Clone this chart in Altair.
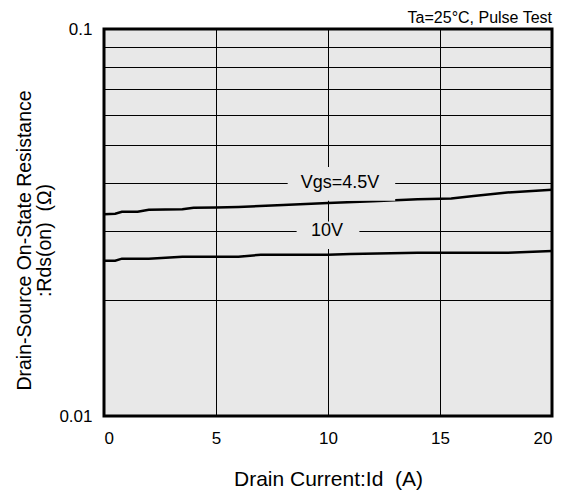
import altair as alt
import pandas as pd

# Vgs = 4.5V curve
id_45 = [0, 0.5, 0.8, 1.5, 2, 3.5, 4, 5, 6, 8, 10, 12, 14, 15.5, 16.5, 18, 20]
rds_45 = [0.0332, 0.0333, 0.0337, 0.0337, 0.0341, 0.0342, 0.0345, 0.0346, 0.0347,
          0.0351, 0.0355, 0.0359, 0.0363, 0.0365, 0.0370, 0.0378, 0.0384]
# Vgs = 10V curve
id_10 = [0, 0.5, 0.8, 2, 3.5, 6, 7, 10, 11, 14, 18, 20]
rds_10 = [0.0252, 0.0252, 0.0255, 0.0255, 0.0258, 0.0258, 0.0261, 0.0261,
          0.0262, 0.0264, 0.0264, 0.0267]

x_ticks = [0, 5, 10, 15, 20]
y_grid = [0.01, 0.02, 0.03, 0.04, 0.05, 0.06, 0.07, 0.08, 0.09, 0.1]

label_text = ["Vgs=4.5V", "10V"]
label_x = [10.54, 9.96]
label_y = [0.04, 0.03]
box_x1 = [8.2, 8.6]
box_x2 = [13.0, 11.4]
box_y1 = [0.0360, 0.0270]
box_y2 = [0.0440, 0.0318]

NB = "\u00a0"
FONT = "Liberation Sans"
BG = "#e8e8e8"

curves = pd.DataFrame(
    {"Id": id_45 + id_10,
     "Rds": rds_45 + rds_10,
     "Vgs": ["4.5V"] * len(id_45) + ["10V"] * len(id_10)}
)
labels = pd.DataFrame({"t": label_text, "x": label_x, "y": label_y,
                       "x1": box_x1, "x2": box_x2, "y1": box_y1, "y2": box_y2})

xscale = alt.Scale(domain=[0, 20], nice=False)
yscale = alt.Scale(type="log", domain=[0.01, 0.1], nice=False)

xaxis = alt.Axis(values=x_ticks, title="Drain Current:Id" + NB + NB + "(A)", grid=True,
                 gridColor="black", gridWidth=1, gridOpacity=1, ticks=False, domain=False,
                 labelFont=FONT, labelFontSize=17, labelColor="black", labelPadding=14,
                 titleFont=FONT, titleFontSize=21, titleFontWeight="normal",
                 titleColor="black", titlePadding=22)
yaxis = alt.Axis(values=y_grid,
                 title=["Drain-Source On-State Resistance", ":Rds(on)" + NB + NB + "(Ω)"],
                 grid=True, gridColor="black", gridWidth=1, gridOpacity=1, ticks=False,
                 domain=False, format=".2~f",
                 labelExpr="(abs(datum.value-0.1)<1e-9 || abs(datum.value-0.01)<1e-9) ? datum.label : ''",
                 labelFont=FONT, labelFontSize=17, labelColor="black", labelPadding=12,
                 titleFont=FONT, titleFontSize=19.5, titleFontWeight="normal",
                 titleColor="black", titlePadding=4, titleLineHeight=20, titleY=211)

base = alt.Chart(curves).mark_line(color="black", strokeWidth=2.5, clip=True).encode(
    x=alt.X("Id:Q", scale=xscale, axis=xaxis),
    y=alt.Y("Rds:Q", scale=yscale, axis=yaxis),
    detail="Vgs:N",
)

boxes = alt.Chart(labels).mark_rect(color=BG).encode(
    x=alt.X("x1:Q", scale=xscale), x2="x2:Q",
    y=alt.Y("y1:Q", scale=yscale), y2="y2:Q",
)
texts = alt.Chart(labels).mark_text(font=FONT, fontSize=18, color="black",
                                    baseline="middle", align="center").encode(
    x=alt.X("x:Q", scale=xscale), y=alt.Y("y:Q", scale=yscale), text="t:N"
)

chart = alt.layer(base, boxes, texts).properties(
    width=448, height=387,
    title=alt.TitleParams("Ta=25°C, Pulse Test", anchor="end", font=FONT, fontSize=16,
                          fontWeight="normal", color="black", offset=-6),
    autosize=alt.AutoSizeParams(type="none"),
    padding={"left": 96, "top": 21, "right": 8, "bottom": 75},
    background="white",
).configure_view(fill=BG, stroke="black", strokeWidth=3)

chart.save("out.html", embed_options={"renderer": "svg", "actions": False})
